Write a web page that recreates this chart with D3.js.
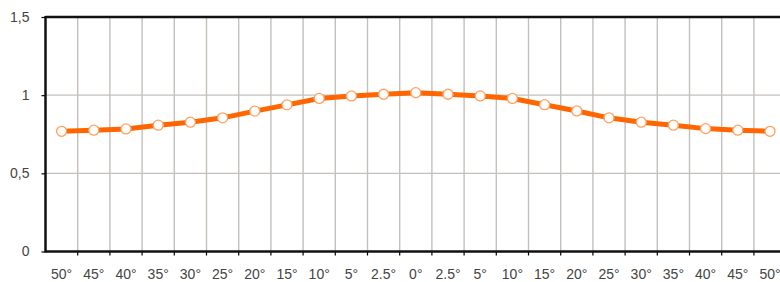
<!DOCTYPE html>
<html lang="en">
<head>
  <meta charset="UTF-8">
  <title>Angle chart</title>
  <script src="https://d3js.org/d3.v7.min.js"></script>
  <style>
    body { margin: 0; background: #fff; }
    svg { display: block; }
    .tick text { font-family: "Liberation Sans", Arial, sans-serif; font-size: 14px; fill: #444; }
  </style>
</head>
<body>
<svg width="780" height="282"></svg>
<script>
const categories = ["50°","45°","40°","35°","30°","25°","20°","15°","10°","5°","2.5°","0°",
                    "2.5°","5°","10°","15°","20°","25°","30°","35°","40°","45°","50°"];
const values = [0.769, 0.776, 0.784, 0.808, 0.827, 0.855, 0.898, 0.938, 0.979, 0.995, 1.006, 1.016,
                1.006, 0.995, 0.979, 0.939, 0.899, 0.855, 0.827, 0.808, 0.786, 0.776, 0.769];
const yTicks = [0, 0.5, 1, 1.5];

const svg = d3.select("svg");
const plotLeft = 45.5, plotTop = 17, plotBottom = 251.5, band = 32.2;
const keys = categories.map((c, i) => i);

const x = d3.scaleBand().domain(keys).range([plotLeft, plotLeft + band * categories.length]);
const y = d3.scaleLinear().domain([0, 1.5]).range([plotBottom, plotTop]);
const edge = i => plotLeft + i * x.bandwidth();
const edges = keys.slice(1).concat([categories.length]);

// vertical grid at band boundaries
svg.append("g").selectAll("line")
  .data(edges)
  .join("line")
  .attr("x1", edge).attr("x2", edge)
  .attr("y1", plotTop).attr("y2", plotBottom)
  .attr("stroke", "#c4c0bc").attr("stroke-width", 1.4);

// horizontal grid
svg.append("g").selectAll("line")
  .data(yTicks.filter(t => t > 0 && t < 1.5))
  .join("line")
  .attr("x1", plotLeft).attr("x2", 780)
  .attr("y1", d => y(d)).attr("y2", d => y(d))
  .attr("stroke", "#c4c0bc").attr("stroke-width", 1.4);

// x tick marks at band boundaries
svg.append("g").selectAll("line")
  .data(edges)
  .join("line")
  .attr("x1", edge).attr("x2", edge)
  .attr("y1", plotBottom).attr("y2", plotBottom + 4)
  .attr("stroke", "#000").attr("stroke-width", 1.2);

// y axis
const yAxis = svg.append("g")
  .attr("transform", `translate(${plotLeft},0)`)
  .call(d3.axisLeft(y).tickValues(yTicks).tickSize(4).tickPadding(12)
    .tickFormat(d => String(d).replace(".", ",")));
yAxis.select(".domain").remove();
yAxis.selectAll(".tick line").attr("stroke", "#000").attr("stroke-width", 1.2);

// x labels
const xAxis = svg.append("g")
  .attr("transform", `translate(0,${plotBottom})`)
  .call(d3.axisBottom(x).tickSize(0).tickPadding(18).tickFormat(i => categories[i]));
xAxis.select(".domain").remove();

// frame: top, left, bottom
svg.append("line").attr("x1", plotLeft).attr("x2", 780).attr("y1", plotTop).attr("y2", plotTop)
  .attr("stroke", "#111").attr("stroke-width", 2.5);
svg.append("line").attr("x1", plotLeft).attr("x2", plotLeft).attr("y1", plotTop - 1).attr("y2", plotBottom + 1)
  .attr("stroke", "#111").attr("stroke-width", 2.5);
svg.append("line").attr("x1", plotLeft).attr("x2", 780).attr("y1", plotBottom).attr("y2", plotBottom)
  .attr("stroke", "#111").attr("stroke-width", 2.5);

// series
const line = d3.line()
  .x((d, i) => x(i) + x.bandwidth() / 2)
  .y(d => y(d));

svg.append("path")
  .datum(values)
  .attr("fill", "none")
  .attr("stroke", "#ff6600")
  .attr("stroke-width", 5)
  .attr("stroke-linejoin", "round")
  .attr("d", line);

svg.append("g").selectAll("circle")
  .data(values)
  .join("circle")
  .attr("cx", (d, i) => x(i) + x.bandwidth() / 2)
  .attr("cy", d => y(d))
  .attr("r", 5)
  .attr("fill", "#fff")
  .attr("stroke", "#ffa060")
  .attr("stroke-width", 1.3);
</script>
</body>
</html>
